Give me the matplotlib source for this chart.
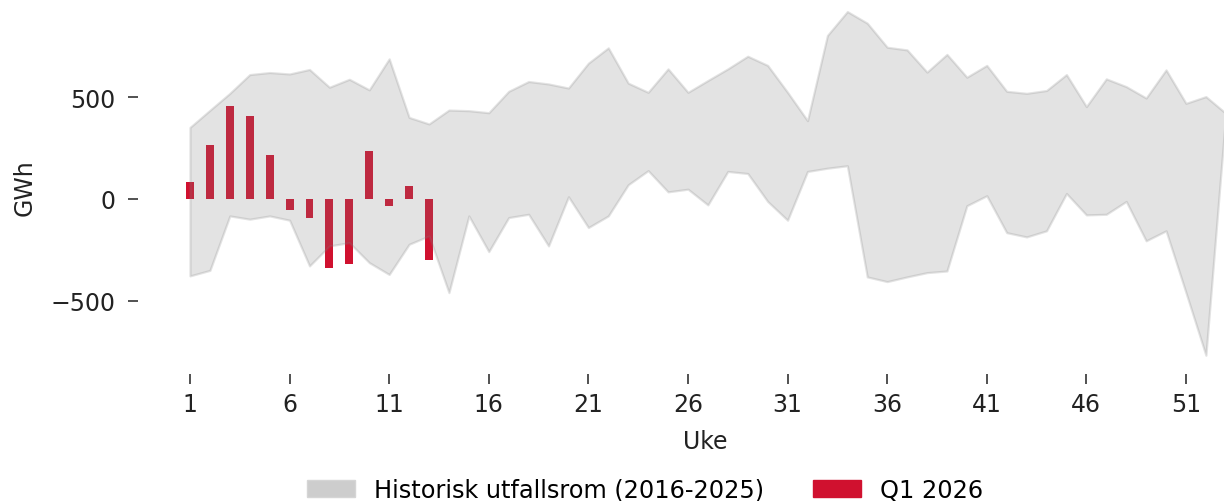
import matplotlib
matplotlib.use("Agg")
import matplotlib.pyplot as plt
from matplotlib.patches import Patch
import numpy as np

# ---- data ----
weeks = list(range(1, 54))
hist_upper = [351, 435, 518, 610, 620, 613, 635, 548, 587, 535, 687, 400, 368,
              436, 433, 423, 528, 576, 564, 544, 666, 741, 568, 523, 638, 523,
              581, 638, 700, 655, 523, 384, 802, 919, 862, 744, 731, 622, 709,
              597, 655, 528, 518, 532, 610, 453, 589, 551, 495, 633, 469, 502, 420]
hist_lower = [-377, -350, -83, -99, -83, -104, -328, -230, -214, -312, -370, -222, -181,
              -459, -83, -258, -91, -75, -230, 11, -140, -83, 70, 139, 35, 48,
              -29, 135, 125, -12, -104, 135, 151, 163, -382, -405, -382, -361, -353,
              -33, 16, -165, -186, -156, 27, -78, -75, -12, -205, -156, -459, -766, 420]
q1_weeks = list(range(1, 14))
q1_values = [85, 265, 454, 407, 217, -54, -93, -338, -319, 237, -36, 65, -301]
xticks = list(range(1, 52, 5))

label_band = "Historisk utfallsrom (2016-2025)"
label_bars = "Q1 2026"
xlabel = "Uke"
ylabel = "GWh"

# ---- figure ----
W, H = 1224, 502
fig = plt.figure(figsize=(W / 100, H / 100), dpi=100)
plt.rcParams['font.family'] = ['DejaVu Sans']

left_px, right_px = 138.2, 1277.6
top_px, bot_px = -5.0, 375.4
ax = fig.add_axes([left_px / W, (H - bot_px) / H, (right_px - left_px) / W, (bot_px - top_px) / H])

red = '#d0112f'
ax.bar(q1_weeks, q1_values, width=0.4, color=red, zorder=2, linewidth=0)
ax.fill_between(weeks, hist_lower, hist_upper, color='#808080', alpha=0.22,
                linewidth=1.6, zorder=3)

ax.set_xlim(-1.6, 55.6)
ax.set_ylim(-860, 1005)
ax.set_xticks(xticks)
ax.set_yticks([-500, 0, 500])

for s in ax.spines.values():
    s.set_visible(False)

fs = 17.0
ax.tick_params(axis='x', length=7.5, width=1.1, pad=5, labelsize=fs, colors='#222222')
ax.tick_params(axis='y', length=7.5, width=1.1, pad=9, labelsize=fs, colors='#222222')

ax.set_xlabel(xlabel, fontsize=fs, color='#222222')
ax.set_ylabel(ylabel, fontsize=fs, color='#222222')
ax.xaxis.set_label_coords((705 - left_px) / (right_px - left_px), -(430 - bot_px) / (bot_px - top_px))
ax.yaxis.set_label_coords((37 - left_px) / (right_px - left_px), (bot_px - 188) / (bot_px - top_px))

handles = [Patch(facecolor='#cdcdcd', edgecolor='#d5d5d5', label=label_band),
           Patch(facecolor=red, edgecolor=red, label=label_bars)]
fig.legend(handles=handles, loc='center', ncol=2, frameon=False, fontsize=17.3,
           bbox_to_anchor=(645 / W, 1 - 491 / H))

fig.savefig('out.png', dpi=100)
